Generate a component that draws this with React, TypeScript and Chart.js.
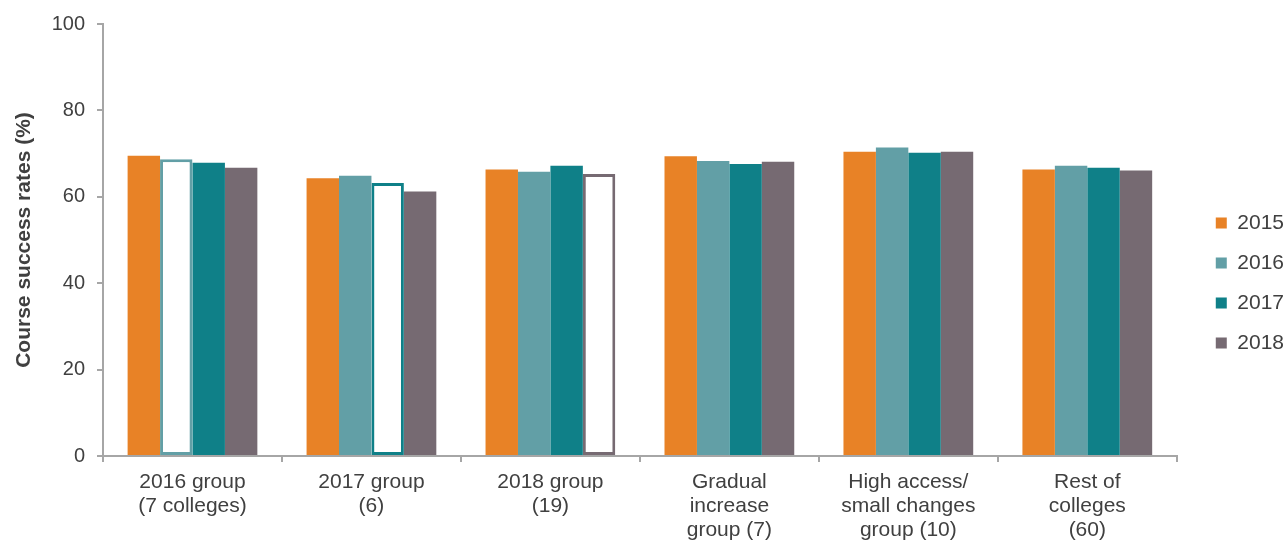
import React, { useEffect, useRef } from "react";
import { Chart, registerables } from "chart.js";

Chart.register(...registerables);

// ---------- data ----------
const categories: string[][] = [
  ["2016 group", "(7 colleges)"],
  ["2017 group", "(6)"],
  ["2018 group", "(19)"],
  ["Gradual", "increase", "group (7)"],
  ["High access/", "small changes", "group (10)"],
  ["Rest of", "colleges", "(60)"],
];
const seriesNames = ["2015", "2016", "2017", "2018"];
const values2015 = [69.5, 64.3, 66.3, 69.4, 70.4, 66.3];
const values2016 = [68.7, 64.9, 65.8, 68.3, 71.4, 67.2];
const values2017 = [67.9, 63.2, 67.2, 67.6, 70.2, 66.7];
const values2018 = [66.7, 61.2, 65.3, 68.1, 70.4, 66.1];
const seriesValues = [values2015, values2016, values2017, values2018];
// category in which each series is drawn as an outline (-1: none)
const outlinedCategory = [-1, 0, 1, 2];
const yTitle = "Course success rates (%)";
const yMin = 0;
const yMax = 100;
const yStep = 20;

// ---------- styles ----------
const seriesColors = ["#E88226", "#629FA6", "#0F8088", "#766A72"];
const textColor = "#404040";
const axisColor = "#A6A6A6";
const FONT = "'Liberation Sans', Arial, Helvetica, sans-serif";

const LEGEND_EXTRA_WIDTH = 11;
const LEGEND_SHIFT_X = 20;
const LEGEND_SHIFT_Y = 1;

const legendShift = {
  id: "legendShift",
  beforeLayout(chart: any) {
    const lg = chart.legend;
    if (lg && !lg.__patched) {
      const fit = lg.fit;
      lg.fit = function () {
        fit.call(this);
        if (this.options.display) this.width += LEGEND_EXTRA_WIDTH;
      };
      lg.__patched = true;
    }
  },
  afterLayout(chart: any) {
    const lg = chart.legend;
    if (lg) {
      lg.left += LEGEND_SHIFT_X;
      lg.right += LEGEND_SHIFT_X;
      lg.top += LEGEND_SHIFT_Y;
      lg.bottom += LEGEND_SHIFT_Y;
    }
  },
};

export default function App() {
  const ref = useRef<HTMLCanvasElement | null>(null);

  useEffect(() => {
    if (!ref.current) return;
    Chart.defaults.font.family = FONT;

    const datasets = seriesNames.map((name, si) => {
      const color = seriesColors[si];
      const hollowAt = outlinedCategory[si];
      return {
        label: name,
        data: seriesValues[si],
        backgroundColor: (ctx: any) =>
          ctx.type === "data" && ctx.dataIndex === hollowAt ? "#FFFFFF" : color,
        borderColor: color,
        borderWidth: (ctx: any) =>
          ctx.type === "data" && ctx.dataIndex === hollowAt ? 3 : 0,
        borderSkipped: (ctx: any) =>
          ctx.type === "data" && ctx.dataIndex === hollowAt ? false : "start",
        categoryPercentage: 0.725,
        barPercentage: 1.0,
      };
    });

    const chart = new Chart(ref.current, {
      type: "bar",
      data: { labels: categories, datasets: datasets as any },
      plugins: [legendShift as any],
      options: {
        animation: false,
        responsive: false,
        layout: { padding: { top: 23, left: 0, right: 0, bottom: 0 } },
        plugins: {
          tooltip: { enabled: false },
          legend: {
            display: true,
            position: "right",
            align: "center",
            labels: {
              boxWidth: 11,
              boxHeight: 11,
              padding: 19,
              color: textColor,
              font: { size: 21, family: FONT },
              generateLabels: (c: any) =>
                seriesNames.map((name, i) => ({
                  text: name,
                  fillStyle: seriesColors[i],
                  strokeStyle: seriesColors[i],
                  lineWidth: 0,
                  hidden: !c.isDatasetVisible(i),
                  datasetIndex: i,
                  fontColor: textColor,
                })),
            },
          },
        },
        scales: {
          x: {
            offset: true,
            grid: {
              display: true,
              drawOnChartArea: false,
              drawTicks: true,
              tickLength: 6,
              color: axisColor,
              lineWidth: 2,
            },
            border: { display: true, color: axisColor, width: 2 },
            ticks: {
              color: textColor,
              font: { size: 21, family: FONT, lineHeight: 1.143 },
              padding: 8,
              maxRotation: 0,
              minRotation: 0,
              autoSkip: false,
            },
            afterFit: (s: any) => {
              s.height = 85;
            },
          },
          y: {
            min: yMin,
            max: yMax,
            grid: {
              display: true,
              drawOnChartArea: false,
              drawTicks: true,
              tickLength: 6,
              color: axisColor,
              lineWidth: 2,
            },
            border: { display: true, color: axisColor, width: 2 },
            ticks: {
              stepSize: yStep,
              color: textColor,
              font: { size: 20, family: FONT },
              padding: 12,
            },
            title: {
              display: true,
              text: yTitle,
              color: textColor,
              font: { size: 21, weight: "bold", family: FONT },
              padding: { top: 12, bottom: 0 },
            },
            afterFit: (s: any) => {
              s.width = 103;
            },
          },
        },
      },
    });

    return () => chart.destroy();
  }, []);

  return (
    <div style={{ position: "absolute", left: 0, top: 0, width: 1285, height: 541, background: "#fff" }}>
      <canvas ref={ref} width={1285} height={541} style={{ display: "block" }} />
    </div>
  );
}
